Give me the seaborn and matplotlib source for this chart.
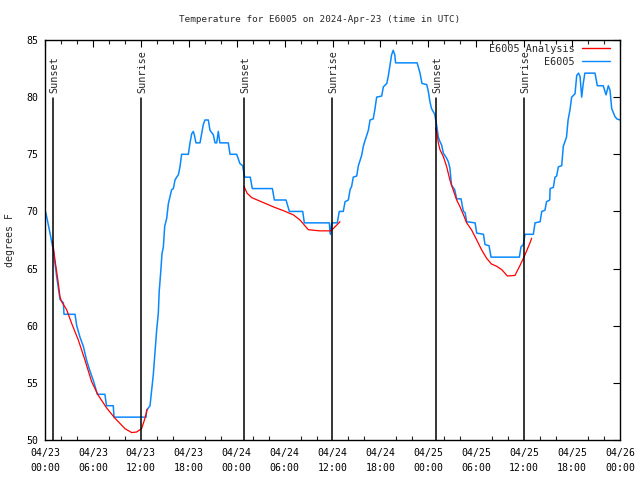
import matplotlib
matplotlib.use("Agg")
import matplotlib.pyplot as plt
from matplotlib.lines import Line2D
from matplotlib.ticker import MultipleLocator
import seaborn as sns
import pandas as pd

# ---------------- data ----------------
obs_hours = [0.0, 0.13, 0.63, 1.04, 1.46, 1.88, 2.3, 2.38, 3.76, 3.97, 4.38, 4.8, 5.2, 5.6,
             6.1, 6.55, 7.5, 7.7, 8.55, 8.64, 12.65, 12.73, 13.15, 13.36, 13.56, 13.77, 13.98,
             14.19, 14.3, 14.48, 14.65, 14.82, 14.99, 15.24, 15.45, 15.65, 15.86, 16.07, 16.28,
             16.49, 16.7, 16.9, 17.11, 17.95, 18.16, 18.37, 18.57, 18.7, 18.9, 19.41, 19.62,
             19.82, 20.03, 20.45, 20.66, 21.08, 21.29, 21.5, 21.7, 21.9, 22.95, 23.17, 24.0,
             24.4, 24.75, 25.0, 25.7, 25.96, 28.47, 28.72, 30.18, 30.6, 32.27, 32.47, 35.6,
             35.69, 35.75, 35.9, 36.6, 36.85, 37.35, 37.57, 37.98, 38.2, 38.4, 38.6, 39.03,
             39.24, 39.65, 39.86, 40.07, 40.49, 40.7, 41.1, 41.3, 41.53, 42.16, 42.37, 42.8,
             43.0, 43.2, 43.4, 43.6, 43.8, 43.9, 46.6, 46.96, 47.2, 47.8, 48.0, 48.2, 48.4,
             48.8, 49.05, 49.25, 49.46, 49.67, 49.88, 50.3, 50.5, 50.7, 50.9, 51.3, 51.55,
             52.1, 52.25, 52.4, 52.6, 52.8, 53.85, 54.06, 54.9, 55.1, 55.6, 55.85, 59.4, 59.6,
             59.9, 60.1, 61.15, 61.36, 62.0, 62.2, 62.6, 62.8, 63.2, 63.25, 63.65, 63.86,
             64.07, 64.28, 64.7, 64.9, 65.3, 65.5, 65.74, 65.95, 66.37, 66.58, 66.8, 67.0,
             67.2, 67.4, 67.6, 68.87, 69.16, 69.9, 70.25, 70.54, 70.75, 70.96, 71.37, 71.6, 72.0]
obs_temps = [70.1, 69.8, 68.1, 66.6, 64.3, 62.3, 62.0, 61.0, 61.0, 60.0, 59.0, 58.2, 57.0, 56.1,
             55.1, 54.0, 54.0, 53.0, 53.0, 52.0, 52.0, 52.6, 53.0, 54.4, 55.7, 57.6, 59.6,
             61.1, 63.0, 64.6, 66.3, 66.9, 68.7, 69.4, 70.7, 71.3, 71.9, 72.0, 72.75,
             73.0, 73.2, 73.9, 75.0, 75.0, 76.0, 76.8, 77.0, 76.7, 76.0, 76.0, 76.8,
             77.6, 78.0, 78.0, 77.1, 76.7, 76.0, 76.0, 77.0, 76.0, 76.0, 75.0, 75.0,
             74.2, 74.0, 73.0, 73.0, 72.0, 72.0, 71.0, 71.0, 70.0, 70.0, 69.0, 69.0,
             68.2, 68.0, 69.0, 69.0, 70.0, 70.0, 70.85, 71.0, 71.9, 72.2, 73.0, 73.1,
             74.0, 74.9, 75.7, 76.2, 77.1, 78.0, 78.1, 78.9, 80.0, 80.1, 80.9, 81.2,
             81.9, 82.8, 83.7, 84.1, 83.7, 83.0, 83.0, 82.1, 81.2, 81.1, 80.5, 79.6, 79.0,
             78.5, 77.5, 76.5, 76.1, 75.8, 75.1, 74.65, 74.35, 73.8, 72.3, 71.9, 71.1,
             71.1, 70.5, 70.0, 69.9, 69.1, 69.0, 68.1, 68.0, 67.1, 67.0, 66.0, 66.0, 66.9,
             67.1, 68.0, 68.0, 69.0, 69.1, 70.0, 70.1, 70.85, 71.0, 72.0, 72.1, 73.0,
             73.1, 73.9, 74.0, 75.7, 76.5, 78.0, 78.9, 80.0, 80.3, 81.9, 82.1, 81.8,
             80.0, 81.2, 82.1, 82.1, 81.0, 81.0, 80.2, 81.0, 80.6, 79.0, 78.3, 78.1, 78.0]

ana_night = [1, 1, 1, 1, 1, 1, 1, 1, 1, 1, 1, 1, 1, 1, 1, 1, 1, 1, 1,
             2, 2, 2, 2, 2, 2, 2, 2, 2, 2, 2, 2, 2,
             3, 3, 3, 3, 3, 3, 3, 3, 3, 3, 3, 3, 3, 3, 3, 3, 3, 3, 3, 3, 3, 3, 3, 3, 3]
ana_hours = [0.95, 1.25, 1.67, 1.88, 2.09, 2.71, 3.34, 4.17, 5.0, 5.84, 6.68, 7.72, 8.77, 10.0,
             10.85, 11.48, 12.1, 12.52, 12.8,
             24.92, 25.3, 25.9, 26.92, 28.59, 29.84, 31.1, 31.93, 32.97, 34.4, 35.7, 36.1, 36.94,
             48.9, 49.05, 49.25, 49.46, 49.88, 50.3, 50.7, 51.1, 51.55, 51.97, 52.4, 52.8, 53.4,
             54.06, 54.7, 55.3, 55.9, 56.56, 57.2, 57.9, 58.85, 59.5, 60.1, 60.7, 60.94]
ana_temps = [67.4, 65.75, 63.7, 62.5, 62.1, 61.4, 60.2, 58.75, 57.0, 55.1, 53.9, 52.8, 51.9, 51.0,
             50.65, 50.7, 51.0, 51.9, 52.7,
             72.2, 71.6, 71.2, 70.9, 70.4, 70.07, 69.7, 69.25, 68.4, 68.3, 68.3, 68.5, 69.1,
             77.3, 77.0, 76.0, 75.4, 74.8, 73.9, 72.75, 71.9, 71.0, 70.4, 69.7, 69.0, 68.4,
             67.5, 66.6, 65.9, 65.4, 65.2, 64.9, 64.35, 64.4, 65.3, 66.2, 67.2, 67.65]

sunset_hours = [1.0, 24.95, 49.0]
sunrise_hours = [12.02, 35.98, 60.02]

tick_hours = [0, 6, 12, 18, 24, 30, 36, 42, 48, 54, 60, 66, 72]
tick_labels = ["04/23\n00:00", "04/23\n06:00", "04/23\n12:00", "04/23\n18:00",
               "04/24\n00:00", "04/24\n06:00", "04/24\n12:00", "04/24\n18:00",
               "04/25\n00:00", "04/25\n06:00", "04/25\n12:00", "04/25\n18:00",
               "04/26\n00:00"]
y_ticks = [50, 55, 60, 65, 70, 75, 80, 85]

title = "Temperature for E6005 on 2024-Apr-23 (time in UTC)"
ylabel = "degrees F"
obs_name = "E6005"
ana_name = "E6005 Analysis"

# ---------------- style ----------------
sns.set_style("white")
plt.rcParams["font.family"] = ["DejaVu Sans Mono", "DejaVu Sans"]
FS = 6.7
FS_BIG = 7.3
BLUE = "#0a88ff"
RED = "#ff0000"

fig = plt.figure(figsize=(6.4, 4.8), dpi=100)
ax = fig.add_axes([45 / 640, 40 / 480, 575 / 640, 400 / 480])

obs_df = pd.DataFrame({"hour": obs_hours, "temp": obs_temps})
ana_df = pd.DataFrame({"hour": ana_hours, "temp": ana_temps, "night": ana_night})

sns.lineplot(data=obs_df, x="hour", y="temp", ax=ax, color=BLUE, linewidth=1.1,
             sort=False, estimator=None, legend=False)
sns.lineplot(data=ana_df, x="hour", y="temp", units="night", ax=ax, color=RED,
             linewidth=0.9, sort=False, estimator=None, legend=False)

for h in sunset_hours:
    ax.plot([h, h], [50, 79.9], color="black", linewidth=1.1)
    ax.text(h + 0.12, 80.4, "Sunset", rotation=90, ha="center", va="bottom", fontsize=FS_BIG)
for h in sunrise_hours:
    ax.plot([h, h], [50, 79.9], color="black", linewidth=1.1)
    ax.text(h + 0.12, 80.4, "Sunrise", rotation=90, ha="center", va="bottom", fontsize=FS_BIG)

ax.set_xlim(0, 72)
ax.set_ylim(50, 85)
ax.set_xticks(tick_hours)
ax.set_xticklabels(tick_labels, fontsize=FS_BIG - 0.2, linespacing=1.6)
ax.xaxis.set_minor_locator(MultipleLocator(2))
ax.set_yticks(y_ticks)
ax.set_yticklabels([str(v) for v in y_ticks], fontsize=FS_BIG - 0.2)
ax.tick_params(axis="x", which="major", direction="in", length=5, width=0.8,
               top=True, pad=6, colors="black")
ax.tick_params(axis="y", which="major", direction="in", length=5, width=0.8,
               right=True, pad=5, colors="black")
ax.tick_params(axis="x", which="minor", direction="in", length=3, width=0.8,
               top=True, bottom=True)
ax.set_xlabel("")
ax.set_ylabel("")
for s in ax.spines.values():
    s.set_color("black")
    s.set_linewidth(1.0)

fig.text(0.5, 1 - 19 / 480, title, ha="center", va="center", fontsize=FS)
fig.text(10 / 640, 0.5, ylabel, rotation=90, ha="center", va="center", fontsize=FS_BIG - 0.2)

handles = [Line2D([0], [0], color=RED, linewidth=1.0),
           Line2D([0], [0], color=BLUE, linewidth=1.0)]
fig.legend(handles, [ana_name, obs_name], loc="upper right",
           bbox_to_anchor=(610 / 640, 1 - 44 / 480), frameon=False, markerfirst=False,
           fontsize=FS_BIG, handlelength=2.8, handletextpad=0.7, labelspacing=0.3,
           borderpad=0, borderaxespad=0)

fig.savefig("out.png", dpi=100, facecolor="white")
